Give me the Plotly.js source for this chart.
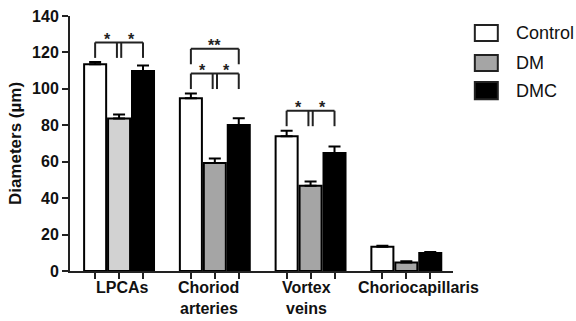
<!DOCTYPE html>
<html>
<head>
<meta charset="utf-8">
<script src="https://cdn.plot.ly/plotly-3.0.1.min.js"></script>
<style>html,body{margin:0;padding:0;background:#fff;}#chart{width:576px;height:321px;}</style>
</head>
<body>
<div id="chart"></div>
<script>
// ---- data ----
const categories = ['LPCAs', 'Choriod<br>arteries', 'Vortex<br>veins', 'Choriocapillaris'];
const groups = ['Control', 'DM', 'DMC'];
const controlVals = [113.5, 94.8, 74.0, 13.3];
const controlErr  = [1.2, 2.6, 3.0, 0.5];
const dmVals      = [83.7, 59.3, 46.8, 4.7];
const dmErr       = [2.2, 2.4, 2.4, 0.6];
const dmcVals     = [109.8, 80.2, 64.8, 9.9];
const dmcErr      = [3.0, 3.7, 3.6, 0.5];
const yTicks      = [0, 20, 40, 60, 80, 100, 120, 140];
// significance brackets: group index, level, kind, label
const sigGroups   = [0, 1, 1, 2];
const sigLevels   = [125.5, 108.4, 122.0, 88.0];
const sigKinds    = ['pair', 'pair', 'span', 'pair'];
const sigLabels   = ['*', '*', '**', '*'];

// ---- layout helpers ----
const groupStep = 4;
const offsets = [-1, 0, 1];
const pos = (gi, j) => gi * groupStep + offsets[j];
const FONT = 'Liberation Sans, Arial, sans-serif';
const labelShift = [3, -6, -4, 12];

const dmColors = categories.map((_, i) => i === 0 ? '#d2d2d2' : '#a5a5a5');
const fills = ['#ffffff', dmColors, '#000000'];
const vals = [controlVals, dmVals, dmcVals];
const errs = [controlErr, dmErr, dmcErr];

const traces = groups.map((g, j) => ({
  type: 'bar',
  name: g,
  x: categories.map((_, i) => pos(i, j)),
  y: vals[j],
  width: 0.92,
  marker: {color: fills[j], line: {color: '#000', width: 2}},
  error_y: {type: 'data', symmetric: false, array: errs[j],
            arrayminus: errs[j].map(() => 0), color: '#000', thickness: 2, width: 6},
  showlegend: false,
  hoverinfo: 'skip'
}));

const shapes = [];
const annotations = [];
const line = (x0, y0, x1, y1) => shapes.push({type: 'line', xref: 'x', yref: 'y',
  x0, y0, x1, y1, line: {color: '#222', width: 2}});

sigGroups.forEach((g, k) => {
  const y = sigLevels[k];
  const drop = 8.5;
  const xa = pos(g, 0), xm = pos(g, 1), xb = pos(g, 2);
  line(xa, y, xb, y);
  line(xa, y, xa, y - drop);
  line(xb, y, xb, y - drop);
  const starFont = {family: FONT, size: 16, color: '#222', weight: 'bold'};
  if (sigKinds[k] === 'pair') {
    line(xm - 0.09, y, xm - 0.09, y - drop);
    line(xm + 0.09, y, xm + 0.09, y - drop);
    [(xa + xm) / 2, (xm + xb) / 2].forEach(sx => annotations.push({
      x: sx, y: y, xref: 'x', yref: 'y', text: sigLabels[k], showarrow: false,
      yanchor: 'middle', yshift: 3, font: starFont
    }));
  } else {
    annotations.push({
      x: xm, y: y, xref: 'x', yref: 'y', text: sigLabels[k], showarrow: false,
      yanchor: 'middle', yshift: 3, font: starFont
    });
  }
});

// category labels (each line placed separately to keep them inside the page)
categories.forEach((c, i) => c.split('<br>').forEach((part, li) => annotations.push({
  x: pos(i, 1), y: 0, xref: 'x', yref: 'paper', yanchor: 'top', yshift: -7 - li * 21,
  xshift: labelShift[i], borderpad: 0,
  text: part, showarrow: false,
  font: {family: FONT, size: 16, color: '#111', weight: 'bold'}
})));

// custom legend
const legFill = ['#ffffff', '#a5a5a5', '#000000'];
const legY = [[0.902, 0.965], [0.784, 0.847], [0.674, 0.741]];
groups.forEach((g, j) => {
  shapes.push({type: 'rect', xref: 'paper', yref: 'paper', x0: 1.057, x1: 1.117,
    y0: legY[j][0], y1: legY[j][1], fillcolor: legFill[j], line: {color: '#222', width: 2}});
  annotations.push({x: 1.158, y: (legY[j][0] + legY[j][1]) / 2, xref: 'paper', yref: 'paper',
    xanchor: 'left', yanchor: 'middle', text: g, showarrow: false,
    font: {family: FONT, size: 18, color: '#111'}});
});

const layout = {
  width: 576, height: 321,
  margin: {l: 70, r: 123, t: 16, b: 50},
  paper_bgcolor: '#fff', plot_bgcolor: '#fff',
  showlegend: false,
  xaxis: {
    range: [-2.05, 13.95], showgrid: false, zeroline: false,
    showline: true, linecolor: '#222', linewidth: 2,
    ticks: 'outside', ticklen: 6, tickwidth: 2, tickcolor: '#222',
    tickvals: categories.flatMap((_, i) => offsets.map((_, j) => pos(i, j))),
    ticktext: categories.flatMap(() => offsets.map(() => '')),
    fixedrange: true
  },
  yaxis: {
    range: [0, 140], tickvals: yTicks, showgrid: false, zeroline: false,
    showline: true, linecolor: '#222', linewidth: 2,
    ticks: 'outside', ticklen: 6, tickwidth: 2, tickcolor: '#222',
    tickfont: {family: FONT, size: 16, color: '#111', weight: 'bold'},
    title: {text: 'Diameters (µm)', standoff: 6,
            font: {family: FONT, size: 17, color: '#111', weight: 'bold'}},
    fixedrange: true
  },
  shapes, annotations
};

Plotly.newPlot('chart', traces, layout, {staticPlot: true, displayModeBar: false});
</script>
</body>
</html>
